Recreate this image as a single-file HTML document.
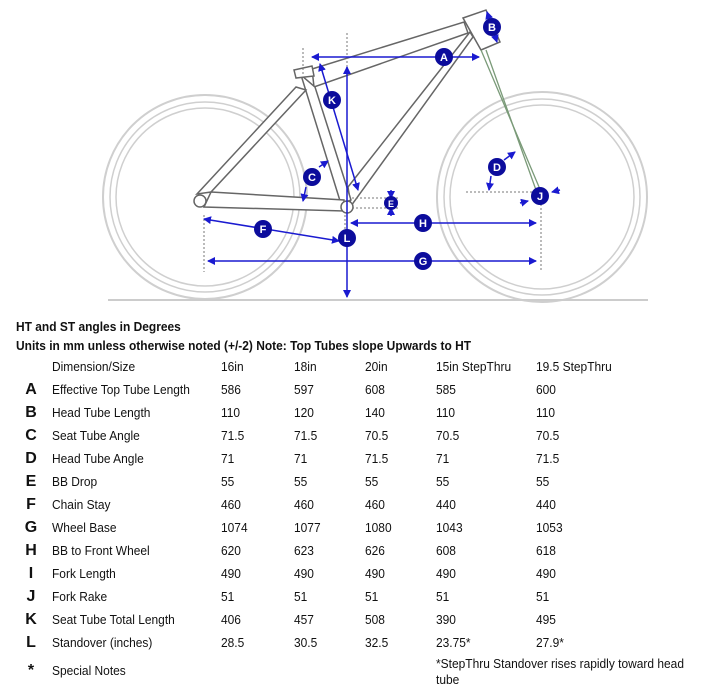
<!DOCTYPE html>
<html><head><meta charset="utf-8"><style>
body{margin:0;width:718px;height:690px;background:#fff;position:relative;overflow:hidden;font-family:"Liberation Sans",Arial,sans-serif;color:#111}
.t{position:absolute;font-size:13px;line-height:16px;white-space:nowrap;transform:scaleX(0.92);transform-origin:0 0}
.b{font-weight:bold}
.L{position:absolute;font-size:16px;font-weight:bold;line-height:16px;width:20px;text-align:center;left:21px}
svg{position:absolute;left:0;top:0}
</style></head><body>
<svg width="718" height="310" viewBox="0 0 718 310">
<defs><marker id="ar" markerWidth="8" markerHeight="8" refX="7" refY="4" orient="auto-start-reverse" markerUnits="userSpaceOnUse"><path d="M0,0 L8,4 L0,8 z" fill="#1a1ad0"/></marker></defs>
<g fill="none" stroke="#cfcfcf" stroke-width="2">
<circle cx="205" cy="197" r="102"/><circle cx="205" cy="197" r="95" stroke-width="1.5"/><circle cx="205" cy="197" r="89" stroke-width="1.5"/>
<circle cx="542" cy="197" r="105"/><circle cx="542" cy="197" r="98" stroke-width="1.5"/><circle cx="542" cy="197" r="92" stroke-width="1.5"/>
</g>
<line x1="108" y1="300" x2="648" y2="300" stroke="#ccc" stroke-width="2"/>
<g fill="#fff" stroke="#666" stroke-width="1.5">
<polygon points="312,69 464,22 468,33 314,87"/>
<polygon points="470,32 348,187 351,206 473,37"/>
<polygon points="301,75 341,204 351,200 315,87"/>
<polygon points="296,87 197,194 211,192 306,90"/>
<polygon points="211,192 344,200 344,211 204,207"/>
<polygon points="463,18 486,10 500,42 481,50"/>
<polygon points="294,70 312,66 314,76 296,78"/>
<circle cx="200" cy="201" r="6"/>
<circle cx="347" cy="207" r="6"/>
</g>
<g stroke="#7a9a78" stroke-width="1.3"><line x1="481" y1="50" x2="542" y2="194"/><line x1="486" y1="50" x2="536" y2="190"/></g>
<g stroke="#777" stroke-width="1" stroke-dasharray="2,2" fill="none">
<line x1="303" y1="48" x2="303" y2="76"/><line x1="347" y1="33" x2="347" y2="67"/>
<line x1="204" y1="215" x2="204" y2="272"/><line x1="541" y1="200" x2="541" y2="270"/>
<line x1="466" y1="192" x2="534" y2="192"/><line x1="352" y1="198" x2="398" y2="198"/><line x1="352" y1="208" x2="398" y2="208"/>
<line x1="345" y1="215" x2="345" y2="245"/>
</g>
<g stroke="#1a1ad0" stroke-width="1.5" fill="none">
<line x1="312" y1="57" x2="479" y2="57" marker-start="url(#ar)" marker-end="url(#ar)"/>
<line x1="487" y1="12" x2="497" y2="42" marker-start="url(#ar)" marker-end="url(#ar)"/>
<line x1="320" y1="64" x2="358" y2="190" marker-start="url(#ar)" marker-end="url(#ar)"/>
<line x1="347" y1="67" x2="347" y2="297" marker-start="url(#ar)" marker-end="url(#ar)"/>
<line x1="319" y1="167" x2="328" y2="161" marker-end="url(#ar)"/>
<line x1="306" y1="187" x2="303" y2="201" marker-end="url(#ar)"/>
<line x1="504" y1="160" x2="515" y2="152" marker-end="url(#ar)"/>
<line x1="491" y1="176" x2="489" y2="190" marker-end="url(#ar)"/>
<line x1="391" y1="190" x2="391" y2="198" marker-end="url(#ar)"/>
<line x1="391" y1="216" x2="391" y2="208" marker-end="url(#ar)"/>
<line x1="204" y1="219" x2="339" y2="241" marker-start="url(#ar)" marker-end="url(#ar)"/>
<line x1="351" y1="223" x2="536" y2="223" marker-start="url(#ar)" marker-end="url(#ar)"/>
<line x1="208" y1="261" x2="536" y2="261" marker-start="url(#ar)" marker-end="url(#ar)"/>
<line x1="560" y1="190" x2="552" y2="192" marker-end="url(#ar)"/>
<line x1="520" y1="203" x2="528" y2="201" marker-end="url(#ar)"/>
</g>
<g font-family="Liberation Sans,Arial,sans-serif" font-size="11" font-weight="bold" fill="#fff" text-anchor="middle">
<g fill="#0c0c9c" stroke="none">
<circle cx="444" cy="57" r="9"/><circle cx="492" cy="27" r="9"/><circle cx="332" cy="100" r="9"/><circle cx="312" cy="177" r="9"/>
<circle cx="497" cy="167" r="9"/><circle cx="540" cy="196" r="9"/><circle cx="391" cy="203" r="7"/><circle cx="263" cy="229" r="9"/>
<circle cx="347" cy="238" r="9"/><circle cx="423" cy="223" r="9"/><circle cx="423" cy="261" r="9"/>
</g>
<text x="444" y="61">A</text><text x="492" y="31">B</text><text x="332" y="104">K</text><text x="312" y="181">C</text>
<text x="497" y="171">D</text><text x="540" y="200">J</text><text x="391" y="207" font-size="9">E</text><text x="263" y="233">F</text>
<text x="347" y="242">L</text><text x="423" y="227">H</text><text x="423" y="265">G</text>
</g>
</svg>
<div class="t b" style="left:16px;top:319px">HT and ST angles in Degrees</div>
<div class="t b" style="left:16px;top:338px">Units in mm unless otherwise noted (+/-2) Note: Top Tubes slope Upwards to HT</div>
<div class="t" style="left:52px;top:359px">Dimension/Size</div><div class="t" style="left:221px;top:359px">16in</div><div class="t" style="left:294px;top:359px">18in</div><div class="t" style="left:365px;top:359px">20in</div><div class="t" style="left:436px;top:359px">15in StepThru</div><div class="t" style="left:536px;top:359px">19.5 StepThru</div>

<div class="L" style="top:382px">A</div><div class="t" style="left:52px;top:382px">Effective Top Tube Length</div><div class="t" style="left:221px;top:382px">586</div><div class="t" style="left:294px;top:382px">597</div><div class="t" style="left:365px;top:382px">608</div><div class="t" style="left:436px;top:382px">585</div><div class="t" style="left:536px;top:382px">600</div>
<div class="L" style="top:405px">B</div><div class="t" style="left:52px;top:405px">Head Tube Length</div><div class="t" style="left:221px;top:405px">110</div><div class="t" style="left:294px;top:405px">120</div><div class="t" style="left:365px;top:405px">140</div><div class="t" style="left:436px;top:405px">110</div><div class="t" style="left:536px;top:405px">110</div>
<div class="L" style="top:428px">C</div><div class="t" style="left:52px;top:428px">Seat Tube Angle</div><div class="t" style="left:221px;top:428px">71.5</div><div class="t" style="left:294px;top:428px">71.5</div><div class="t" style="left:365px;top:428px">70.5</div><div class="t" style="left:436px;top:428px">70.5</div><div class="t" style="left:536px;top:428px">70.5</div>
<div class="L" style="top:451px">D</div><div class="t" style="left:52px;top:451px">Head Tube Angle</div><div class="t" style="left:221px;top:451px">71</div><div class="t" style="left:294px;top:451px">71</div><div class="t" style="left:365px;top:451px">71.5</div><div class="t" style="left:436px;top:451px">71</div><div class="t" style="left:536px;top:451px">71.5</div>
<div class="L" style="top:474px">E</div><div class="t" style="left:52px;top:474px">BB Drop</div><div class="t" style="left:221px;top:474px">55</div><div class="t" style="left:294px;top:474px">55</div><div class="t" style="left:365px;top:474px">55</div><div class="t" style="left:436px;top:474px">55</div><div class="t" style="left:536px;top:474px">55</div>
<div class="L" style="top:497px">F</div><div class="t" style="left:52px;top:497px">Chain Stay</div><div class="t" style="left:221px;top:497px">460</div><div class="t" style="left:294px;top:497px">460</div><div class="t" style="left:365px;top:497px">460</div><div class="t" style="left:436px;top:497px">440</div><div class="t" style="left:536px;top:497px">440</div>
<div class="L" style="top:520px">G</div><div class="t" style="left:52px;top:520px">Wheel Base</div><div class="t" style="left:221px;top:520px">1074</div><div class="t" style="left:294px;top:520px">1077</div><div class="t" style="left:365px;top:520px">1080</div><div class="t" style="left:436px;top:520px">1043</div><div class="t" style="left:536px;top:520px">1053</div>
<div class="L" style="top:543px">H</div><div class="t" style="left:52px;top:543px">BB to Front Wheel</div><div class="t" style="left:221px;top:543px">620</div><div class="t" style="left:294px;top:543px">623</div><div class="t" style="left:365px;top:543px">626</div><div class="t" style="left:436px;top:543px">608</div><div class="t" style="left:536px;top:543px">618</div>
<div class="L" style="top:566px">I</div><div class="t" style="left:52px;top:566px">Fork Length</div><div class="t" style="left:221px;top:566px">490</div><div class="t" style="left:294px;top:566px">490</div><div class="t" style="left:365px;top:566px">490</div><div class="t" style="left:436px;top:566px">490</div><div class="t" style="left:536px;top:566px">490</div>
<div class="L" style="top:589px">J</div><div class="t" style="left:52px;top:589px">Fork Rake</div><div class="t" style="left:221px;top:589px">51</div><div class="t" style="left:294px;top:589px">51</div><div class="t" style="left:365px;top:589px">51</div><div class="t" style="left:436px;top:589px">51</div><div class="t" style="left:536px;top:589px">51</div>
<div class="L" style="top:612px">K</div><div class="t" style="left:52px;top:612px">Seat Tube Total Length</div><div class="t" style="left:221px;top:612px">406</div><div class="t" style="left:294px;top:612px">457</div><div class="t" style="left:365px;top:612px">508</div><div class="t" style="left:436px;top:612px">390</div><div class="t" style="left:536px;top:612px">495</div>
<div class="L" style="top:635px">L</div><div class="t" style="left:52px;top:635px">Standover (inches)</div><div class="t" style="left:221px;top:635px">28.5</div><div class="t" style="left:294px;top:635px">30.5</div><div class="t" style="left:365px;top:635px">32.5</div><div class="t" style="left:436px;top:635px">23.75*</div><div class="t" style="left:536px;top:635px">27.9*</div>
<div class="L" style="top:663px">*</div><div class="t" style="left:52px;top:663px">Special Notes</div>
<div class="t" style="left:436px;top:656px">*StepThru Standover rises rapidly toward head</div>
<div class="t" style="left:436px;top:672px">tube</div>
</body></html>
